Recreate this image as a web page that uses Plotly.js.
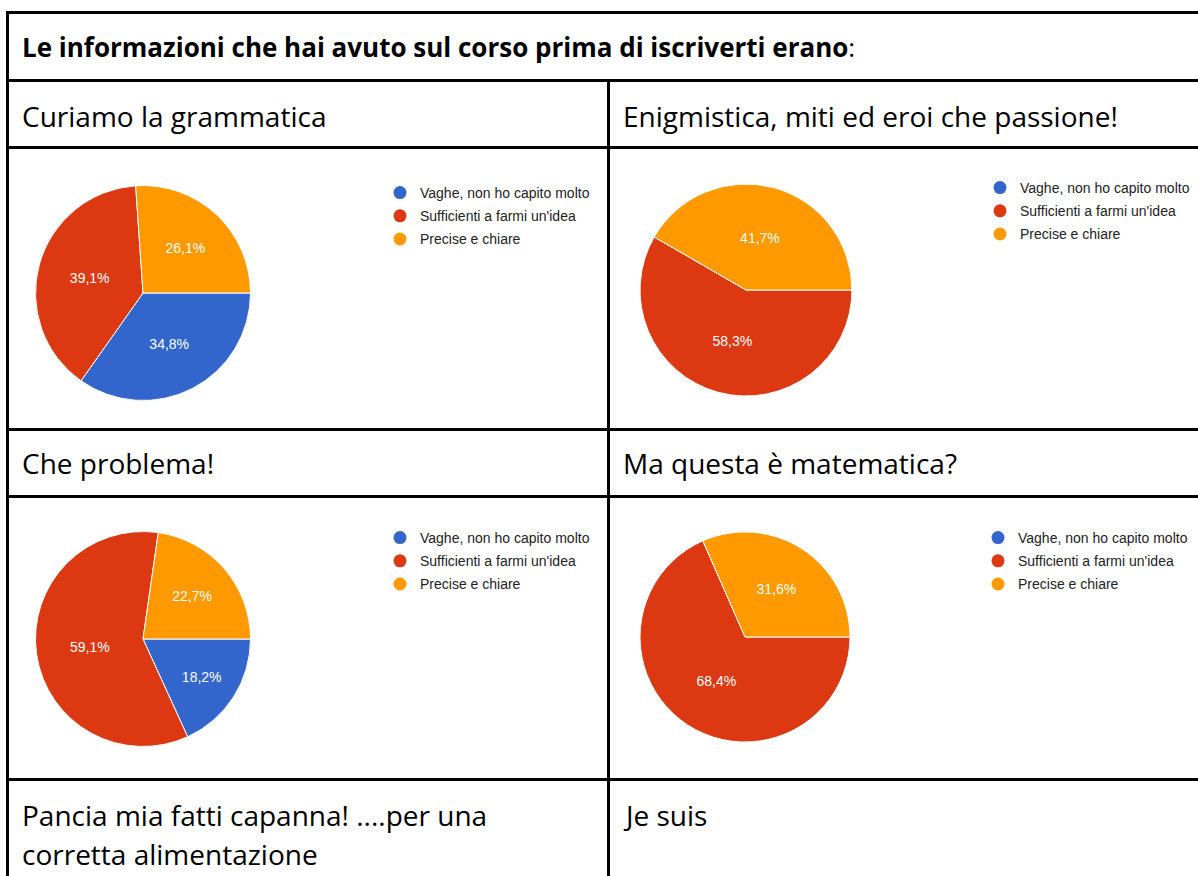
<!DOCTYPE html>
<html>
<head>
<meta charset="utf-8">
<script src="https://cdn.plot.ly/plotly-3.0.1.min.js"></script>
<style>
html,body{margin:0;padding:0;background:#fff;}
#chart{width:1198px;height:876px;}
</style>
</head>
<body>
<div id="chart"></div>
<script>
// ---- data ----
var categories = ["Vaghe, non ho capito molto", "Sufficienti a farmi un'idea", "Precise e chiare"];
var sliceColors = ["#3366cc", "#dc3912", "#ff9900"];
var headerTitle = "Le informazioni che hai avuto sul corso prima di iscriverti erano";
var courseNames = ["Curiamo la grammatica", "Enigmistica, miti ed eroi che passione!", "Che problema!", "Ma questa è matematica?"];
var lastRowLeft = ["Pancia mia fatti capanna! ....per una", "corretta alimentazione"];
var lastRowRight = "Je suis";
// response counts per course (Vaghe, Sufficienti, Precise)
var grammatica = [8, 9, 6];
var enigmistica = [0, 7, 5];
var problema = [4, 13, 5];
var matematica = [0, 13, 6];

// ---- layout helpers ----
var W = 1198, H = 876;
function px(x){ return x / W; }
function py(y){ return 1 - y / H; }

var pieSpecs = [
  {vals: grammatica, cx: 143, cy: 293, r: 107.5, legend: "legend",  lx: 380, ly: 177},
  {vals: enigmistica, cx: 746, cy: 290, r: 106,  legend: "legend2", lx: 980, ly: 172},
  {vals: problema,   cx: 143, cy: 639, r: 107.5, legend: "legend3", lx: 380, ly: 522},
  {vals: matematica, cx: 745, cy: 637, r: 105,   legend: "legend4", lx: 978, ly: 522}
];

var traces = [];
var layout = {
  width: W, height: H,
  margin: {l: 0, r: 0, t: 0, b: 0},
  paper_bgcolor: "#ffffff",
  plot_bgcolor: "rgba(0,0,0,0)",
  separators: ",.",
  xaxis: {visible: false, range: [0, 1], fixedrange: true},
  yaxis: {visible: false, range: [0, 1], fixedrange: true},
  showlegend: true,
  shapes: [],
  annotations: []
};

pieSpecs.forEach(function(s, i){
  var labs = [], vs = [], cols = [];
  s.vals.forEach(function(v, k){
    if (v > 0) { labs.push(categories[k]); vs.push(v); cols.push(sliceColors[k]); }
  });
  traces.push({
    type: "pie",
    labels: labs,
    values: vs,
    sort: false,
    direction: "clockwise",
    rotation: 90,
    marker: {colors: cols, line: {color: "#ffffff", width: 1}},
    texttemplate: "%{percent:.1%}",
    textposition: "inside",
    insidetextorientation: "horizontal",
    insidetextfont: {family: "Liberation Sans, Arial, sans-serif", size: 14, color: "#ffffff"},
    hoverinfo: "label+percent",
    showlegend: false,
    domain: {x: [px(s.cx - s.r), px(s.cx + s.r)], y: [py(s.cy + s.r), py(s.cy - s.r)]}
  });
  // legend entries (circle symbols)
  categories.forEach(function(c, k){
    traces.push({
      type: "scatter", mode: "markers",
      x: [null], y: [null],
      name: c,
      legend: s.legend,
      legendgroup: s.legend + "_" + k,
      marker: {symbol: "circle", size: 13, color: sliceColors[k]},
      hoverinfo: "skip",
      showlegend: true
    });
  });
  layout[s.legend] = {
    x: px(s.lx), y: py(s.ly),
    xanchor: "left", yanchor: "top",
    bgcolor: "rgba(0,0,0,0)",
    borderwidth: 0,
    traceorder: "grouped",
    tracegroupgap: 2,
    itemclick: false, itemdoubleclick: false,
    font: {family: "Liberation Sans, Arial, sans-serif", size: 14, color: "#222222"}
  };
});

// ---- table lines ----
function hline(y, x0, x1){
  layout.shapes.push({type: "line", xref: "paper", yref: "paper",
    x0: px(x0), x1: px(x1), y0: py(y), y1: py(y), line: {color: "#000000", width: 3}});
}
function vline(x, y0, y1){
  layout.shapes.push({type: "line", xref: "paper", yref: "paper",
    x0: px(x), x1: px(x), y0: py(y0), y1: py(y1), line: {color: "#000000", width: 3}});
}
hline(12.5, 6, 1200);
hline(80.5, 6, 1200);
hline(147.5, 6, 1200);
hline(429.5, 6, 1200);
hline(496.5, 6, 1200);
hline(779.5, 6, 1200);
vline(7.5, 11, 880);
vline(608.5, 80, 880);

// ---- cell texts ----
var cellFont = {family: "Open Sans, Noto Sans, sans-serif", size: 28, color: "#000000"};
function label(text, x, y, font){
  layout.annotations.push({xref: "paper", yref: "paper", x: px(x), y: py(y),
    xanchor: "left", yanchor: "middle", showarrow: false, text: text, font: font, align: "left"});
}
label("<b>" + headerTitle + "</b>:", 20, 47, {family: "Open Sans, Noto Sans, sans-serif", size: 26, color: "#000000"});
label(courseNames[0], 20, 116, cellFont);
label(courseNames[1], 621, 116, cellFont);
label(courseNames[2], 20, 463, cellFont);
label(courseNames[3], 621, 463, cellFont);
label(lastRowLeft[0], 20, 815, cellFont);
label(lastRowLeft[1], 20, 854, cellFont);
label(lastRowRight, 621, 815, cellFont);

Plotly.newPlot("chart", traces, layout, {displayModeBar: false});
</script>
</body>
</html>
